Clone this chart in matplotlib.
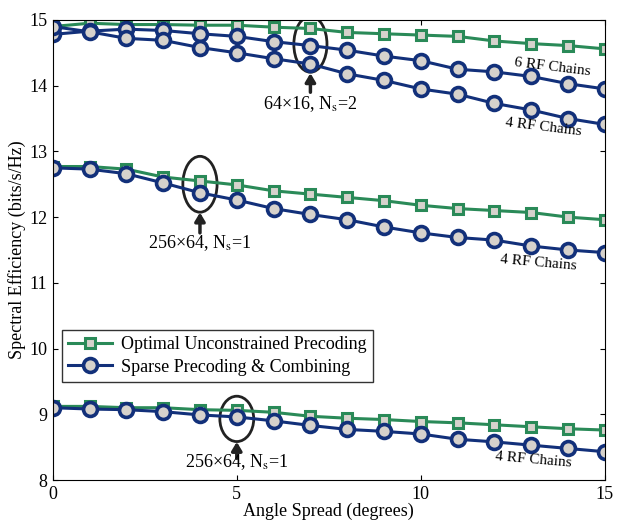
import numpy as np
import matplotlib
matplotlib.use("Agg")
import matplotlib.pyplot as plt
from matplotlib.patches import Ellipse

plt.rcParams['font.family'] = ['Liberation Serif', 'DejaVu Serif']
plt.rcParams['mathtext.fontset'] = 'stix'

angle = np.arange(0, 16)

# 64x16, Ns=2
opt_64 = [14.90, 14.95, 14.93, 14.93, 14.92, 14.92, 14.89, 14.87,
          14.81, 14.79, 14.77, 14.75, 14.68, 14.64, 14.61, 14.56]
sparse_64_6rf = [14.78, 14.83, 14.86, 14.84, 14.79, 14.75, 14.67, 14.61,
                 14.54, 14.45, 14.38, 14.25, 14.21, 14.14, 14.03, 13.95]
sparse_64_4rf = [14.90, 14.82, 14.72, 14.69, 14.58, 14.50, 14.41, 14.33,
                 14.18, 14.08, 13.95, 13.87, 13.73, 13.63, 13.50, 13.41]

# 256x64, Ns=1 (middle)
opt_256a = [12.77, 12.77, 12.73, 12.61, 12.55, 12.49, 12.40, 12.35,
            12.30, 12.25, 12.18, 12.13, 12.10, 12.07, 12.00, 11.96]
sparse_256a = [12.75, 12.73, 12.66, 12.52, 12.37, 12.26, 12.13, 12.04,
               11.96, 11.85, 11.76, 11.69, 11.65, 11.56, 11.50, 11.46]

# 256x64, Ns=1 (bottom)
opt_256b = [9.12, 9.12, 9.10, 9.10, 9.07, 9.06, 9.03, 8.97,
            8.94, 8.92, 8.89, 8.87, 8.84, 8.81, 8.78, 8.76]
sparse_256b = [9.10, 9.08, 9.07, 9.04, 8.99, 8.96, 8.90, 8.83,
               8.77, 8.74, 8.70, 8.62, 8.58, 8.53, 8.48, 8.43]

green = '#2a8a58'
blue = '#12307a'
face = '#d6d2cc'

fig = plt.figure(figsize=(6.23, 5.25), dpi=100)
ax = fig.add_axes([0.0846, 0.0857, 0.8864, 0.8763])

sq = dict(color=green, lw=2.2, marker='s', ms=7, mfc=face, mec=green, mew=2.2)
ci = dict(color=blue, lw=2.2, marker='o', ms=10, mfc=face, mec=blue, mew=2.6)

ax.plot(angle, opt_64, label='Optimal Unconstrained Precoding', **sq)
ax.plot(angle, sparse_64_6rf, label='Sparse Precoding & Combining', **ci)
ax.plot(angle, sparse_64_4rf, **ci)
ax.plot(angle, opt_256a, **sq)
ax.plot(angle, sparse_256a, **ci)
ax.plot(angle, opt_256b, **sq)
ax.plot(angle, sparse_256b, **ci)

ax.set_xlim(0, 15)
ax.set_ylim(8, 15)
ax.set_xticks([0, 5, 10, 15])
ax.set_yticks([8, 9, 10, 11, 12, 13, 14, 15])
ax.tick_params(direction='in', top=True, right=True, labelsize=13, length=3.5, pad=4)
ax.set_xlabel('Angle Spread (degrees)', fontsize=13, labelpad=0)
ax.set_ylabel('Spectral Efficiency (bits/s/Hz)', fontsize=13, labelpad=2)

# ellipses + arrows + labels
for (cx, cy, w, h) in [(7, 14.63, 0.9, 0.85), (4, 12.50, 0.93, 0.85), (5, 8.93, 0.92, 0.69)]:
    ax.add_patch(Ellipse((cx, cy), w, h, fill=False, ec='#222222', lw=2))

arrow = dict(arrowstyle='-|>,head_length=0.5,head_width=0.3', color='#222222',
             lw=2.5, shrinkA=0, shrinkB=0)
ax.annotate('', xy=(7, 14.19), xytext=(7, 13.90), arrowprops=arrow)
ax.annotate('', xy=(4, 12.07), xytext=(4, 11.76), arrowprops=arrow)
ax.annotate('', xy=(5, 8.58), xytext=(5, 8.33), arrowprops=arrow)

ax.text(7, 13.72, '64×16, N$_\\mathrm{s}$=2', fontsize=13, ha='center', va='center')
ax.text(4, 11.60, '256×64, N$_\\mathrm{s}$=1', fontsize=13, ha='center', va='center')
ax.text(5, 8.28, '256×64, N$_\\mathrm{s}$=1', fontsize=13, ha='center', va='center')

ax.text(13.56, 14.28, '6 RF Chains', fontsize=11, ha='center', va='center', rotation=-7)
ax.text(13.34, 13.37, '4 RF Chains', fontsize=11, ha='center', va='center', rotation=-7)
ax.text(13.20, 11.30, '4 RF Chains', fontsize=11, ha='center', va='center', rotation=-5)
ax.text(13.07, 8.30, '4 RF Chains', fontsize=11, ha='center', va='center', rotation=-5)

leg = ax.legend(loc='upper left', bbox_to_anchor=(0.017, 0.326), fontsize=13,
                frameon=True, fancybox=False, edgecolor='black', handlelength=2.4,
                borderaxespad=0, borderpad=0.35, labelspacing=0.3, handletextpad=0.5)
leg.get_frame().set_linewidth(1)

fig.savefig('out.png', dpi=100)
